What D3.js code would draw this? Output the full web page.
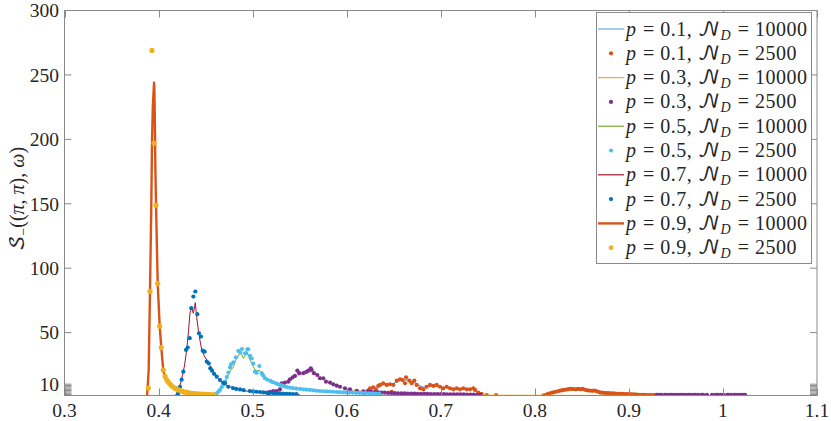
<!DOCTYPE html>
<html><head><meta charset="utf-8">
<script src="https://cdn.jsdelivr.net/npm/d3@7"></script>
<style>
body{margin:0;background:#fff;}
</style></head>
<body><svg id="c" width="831" height="421"></svg>
<script>
const xTicks=[0.3,0.4,0.5,0.6,0.7,0.8,0.9,1.0,1.1];
const xTickLabels=["0.3","0.4","0.5","0.6","0.7","0.8","0.9","1","1.1"];
const yTicks=[10,50,100,150,200,250,300];
const yMinorTicks=[2,3,4,5,6,7,8,9];

// p = 0.1
const p01Line=[[0.612,1.0],[0.618,1.5],[0.622,4],[0.626,6],[0.630,7.2],[0.634,8.3],[0.638,9.5],[0.642,9.6],[0.646,9.8],[0.650,10.5],[0.654,12],[0.658,13],[0.662,13.2],[0.666,13.5],[0.670,12],[0.674,10.5],[0.678,8.5],[0.682,7.5],[0.686,8],[0.690,8.8],[0.694,8.7],[0.698,8.4],[0.702,7.6],[0.706,7.4],[0.710,6.9],[0.714,6.6],[0.718,6.5],[0.722,6.4],[0.726,6.2],[0.730,6.1],[0.734,6.2],[0.738,4.5],[0.742,2.6],[0.746,1.6],[0.750,1.0],[0.805,1.0],[0.810,1.6],[0.816,2.8],[0.824,4.2],[0.832,5.6],[0.840,6.2],[0.848,6.2],[0.856,5.2],[0.864,4.5],[0.872,3.3],[0.880,2.9],[0.890,2.4],[0.905,2.0],[0.920,1.6],[0.935,1.3],[0.94,1.0]];
const p01Dots=[[0.6195,2.5],[0.6222,4.8],[0.6248,6.8],[0.6283,7.6],[0.6312,5.5],[0.6336,8.6],[0.6354,9.4],[0.6389,10.7],[0.6425,9.4],[0.646,9.9],[0.6478,4.1],[0.6496,9.4],[0.6532,12.7],[0.6567,13.8],[0.6595,13.2],[0.662,10.7],[0.6631,15.3],[0.6666,12.7],[0.6691,10.7],[0.6719,12.7],[0.6744,9.4],[0.678,6.8],[0.6815,6],[0.685,8],[0.6886,9.4],[0.6921,8.6],[0.6957,9.4],[0.6992,8],[0.7027,6.8],[0.7063,8],[0.7098,6.8],[0.7134,6],[0.7169,6.8],[0.7205,6],[0.724,6.8],[0.7276,6],[0.7311,6],[0.7346,6.8],[0.7364,5.5],[0.7399,3.4],[0.7435,2.4],[0.7488,1.6],[0.7588,1.6],
[0.809,1.2],[0.811,1.6],[0.8135,2.2],[0.816,2.9],[0.8185,3.4],[0.821,3.9],[0.8235,4.3],[0.826,4.8],[0.8285,5.1],[0.831,5.5],[0.8335,5.8],[0.836,6.1],[0.8385,6.4],[0.841,6.2],[0.8435,6.0],[0.846,6.3],[0.8485,6.1],[0.851,6.4],[0.8535,5.6],[0.856,5.1],[0.8585,5.0],[0.861,4.8],[0.8635,5.0],[0.866,4.5],[0.8685,3.8],[0.871,3.4],[0.8735,3.3],[0.876,3.1],[0.8785,3.0],[0.881,2.9],[0.8835,2.8],[0.886,2.7],[0.8885,2.5],[0.891,2.4],[0.8935,2.4],[0.896,2.3],[0.8985,2.2],[0.901,2.2],[0.9035,2.1],[0.906,2.0],[0.9085,1.9],[0.911,1.8],[0.9135,1.8],[0.916,1.7],[0.9185,1.6],[0.921,1.6],[0.9235,1.5],[0.926,1.5],[0.9285,1.4],[0.931,1.4],[0.9335,1.3]];

// p = 0.3
const p03Line=[[0.512,1.0],[0.516,2],[0.520,3.5],[0.524,4.8],[0.528,6.5],[0.532,9],[0.536,11],[0.540,13],[0.544,15],[0.548,16.5],[0.552,17.8],[0.556,18.8],[0.560,19.5],[0.564,19.2],[0.568,17.5],[0.572,15.5],[0.576,13.5],[0.580,11.8],[0.584,10.3],[0.588,9],[0.592,8],[0.596,7.2],[0.600,6.4],[0.605,5.6],[0.610,5],[0.615,4.6],[0.620,4.2],[0.625,3.8],[0.630,3.4],[0.640,3],[0.650,2.7],[0.660,2.5],[0.680,2.2],[0.700,2.0],[0.720,1.8],[0.740,1.6],[0.760,1.5],[0.800,1.4],[0.850,1.3],[0.900,1.3],[0.950,1.3],[1.000,1.2],[1.025,1.2]];
const p03Dots=[[0.5167,2.9],[0.5185,4.1],[0.522,4.7],[0.5256,4.7],[0.5291,6],[0.5309,10.7],[0.5344,11.2],[0.538,11.9],[0.5397,13.8],[0.5426,15.3],[0.545,16.4],[0.5475,20.5],[0.5496,18.5],[0.5539,18.5],[0.557,19.5],[0.5592,20.5],[0.5618,22.3],[0.5628,21],[0.5652,18.5],[0.5688,17.1],[0.5716,14.6],[0.5751,14.6],[0.578,11.9],[0.5823,11.2],[0.5858,9.9],[0.5894,8.8],[0.5929,8],[0.5982,6.8],[0.6035,6],[0.6107,4.9],[0.6177,4.5],[0.623,4.5],
[0.6265,4.2],[0.630,3.9],[0.6335,3.7],[0.637,3.5],[0.6405,3.4],[0.644,3.2],[0.6475,3.1],[0.651,3.0],[0.6545,2.9],[0.658,2.8],[0.6615,2.8],[0.665,2.7],[0.6685,2.6],[0.672,2.6],[0.6755,2.5],[0.679,2.5],[0.6825,2.4],[0.686,2.4],[0.6895,2.3],[0.693,2.3],[0.6965,2.2],[0.700,2.2],[0.7035,2.2],[0.707,2.1],[0.7105,2.1],[0.714,2.1],[0.7175,2.0],[0.721,2.0],[0.7245,2.0],[0.728,1.9],[0.7315,1.9],[0.735,1.9],[0.7385,1.8],[0.742,1.8],
[0.9296,1.8],[0.9323,1.8],[0.935,1.8],[0.9386,1.8],[0.9413,1.8],[0.944,1.8],[0.9455,1.8],[0.9485,1.8],[0.9515,1.8],[0.9545,1.8],[0.9575,1.8],[0.9605,1.8],[0.9635,1.8],[0.9650,1.8],[0.9675,1.8],[0.9705,1.8],[0.9735,1.8],[0.977,1.8],[0.979,1.8],[0.983,1.8],[0.9884,1.8],[0.992,1.8],[0.9945,1.8],[0.9975,1.8],[1.0005,1.8],[1.0045,1.8],[1.0062,1.8],[1.0095,1.8],[1.0125,1.8],[1.0155,1.8],[1.0185,1.8],[1.0215,1.8],[1.0235,1.8]];

// p = 0.5
const p05Line=[[0.456,1.0],[0.460,2.2],[0.464,4.5],[0.468,8],[0.471,12],[0.474,17],[0.477,21.5],[0.479,22.5],[0.482,28.5],[0.4845,31.5],[0.4866,34.5],[0.4885,33],[0.490,30],[0.492,32],[0.4937,35.2],[0.4955,32],[0.4972,28.8],[0.499,26],[0.5007,23.6],[0.5025,21.5],[0.5043,20],[0.5071,21],[0.509,18.5],[0.511,16.5],[0.514,14],[0.518,12.5],[0.522,11.2],[0.526,10],[0.530,9],[0.535,8],[0.540,7.2],[0.545,6.6],[0.550,6],[0.555,5.6],[0.560,5.2],[0.570,4.6],[0.580,4.1],[0.590,3.6],[0.600,3.3],[0.610,3],[0.620,2.7],[0.630,2.5],[0.640,2.3]];
const p05Dots=[[0.4599,1.9],[0.4618,2.9],[0.4636,4.2],[0.4653,5.5],[0.4672,7.8],[0.469,9.8],[0.4706,11.9],[0.4725,15.5],[0.4742,19],[0.476,23.1],[0.477,25.4],[0.4795,27],[0.4823,30.9],[0.4848,35.8],[0.4868,34.5],[0.4887,37.3],[0.4919,34],[0.493,34],[0.4944,37.1],[0.4954,37.1],[0.4972,32],[0.499,30],[0.5007,26],[0.5025,19.7],[0.5043,18.9],[0.5071,24.1],[0.5097,18.5],[0.511,17],[0.513,14.8],[0.5155,13.5],[0.5189,12.5],[0.521,11.6],[0.524,10.9],[0.5265,10.1],[0.529,9.4],[0.5315,8.8],[0.534,8.2],[0.5365,7.7],[0.5397,7.3],[0.543,6.9],[0.5465,6.6],[0.5504,6.3],[0.554,6.0],[0.5575,5.7],[0.561,5.5],[0.5645,5.2],[0.568,4.9],[0.5715,4.7],[0.575,4.5],[0.5785,4.4],[0.582,4.3],[0.5855,4.1],[0.589,3.9],[0.5925,3.8],[0.596,3.7],[0.5995,3.6],[0.603,3.5],[0.6065,3.4],[0.61,3.3],[0.6135,3.2],[0.617,3.1],[0.6205,3.0],[0.624,2.9],[0.6275,2.8],[0.631,2.7],[0.6345,2.6]];

// p = 0.7
const p07Line=[[0.4175,1.0],[0.4195,3],[0.4215,6],[0.4235,11],[0.4255,17],[0.4275,24],[0.4299,36.6],[0.4317,50],[0.4334,65.3],[0.4352,69.2],[0.437,65],[0.4391,73.3],[0.4405,62],[0.4423,52],[0.444,44],[0.4459,36.6],[0.4485,32],[0.4512,28.8],[0.4538,25.5],[0.4565,22.3],[0.459,18.5],[0.4618,15.8],[0.465,13],[0.4688,10.7],[0.4725,9],[0.476,8],[0.481,6.7],[0.4866,5.5],[0.492,4.8],[0.498,4.2],[0.505,3.6],[0.512,3.2],[0.52,2.8],[0.53,2.4],[0.54,2.1],[0.55,1.9]];
const p07Dots=[[0.4205,2.2],[0.4228,8],[0.4245,13.5],[0.4263,19.7],[0.4292,36.6],[0.431,38.4],[0.4331,45.7],[0.4348,69],[0.437,78],[0.4391,81.9],[0.4412,64.3],[0.443,49.5],[0.4451,46.9],[0.4469,36],[0.449,35.2],[0.4512,27.5],[0.4533,26.2],[0.455,22.3],[0.4568,20.5],[0.459,18],[0.4618,15.8],[0.4653,13.2],[0.4688,11],[0.4706,10.7],[0.4741,8],[0.479,7],[0.4825,6.3],[0.4866,5.9],[0.4905,5.3],[0.497,4.7],[0.5005,4.4],[0.504,4.1],[0.5078,3.9],[0.5115,3.6],[0.515,3.4],[0.5185,3.2],[0.522,3.0],[0.5255,2.9],[0.529,2.8],[0.5325,2.6],[0.536,2.5],[0.5395,2.4],[0.543,2.3],[0.5465,2.2]];

// p = 0.9
const p09Line=[[0.3878,0.5],[0.3895,21],[0.3909,82],[0.3923,150],[0.3930,197],[0.3939,225],[0.3952,244],[0.3956,238],[0.3961,212],[0.3966,178],[0.3973,149],[0.3991,88],[0.4012,55],[0.4029,38.4],[0.4050,21],[0.407,15],[0.409,12],[0.411,10.2],[0.413,9],[0.416,7.5],[0.419,6.2],[0.422,5.2],[0.426,4.3],[0.430,3.6],[0.435,3.0],[0.440,2.6],[0.445,2.4],[0.450,2.2],[0.455,2.1],[0.46,2]];
const p09Dots=[[0.3891,7],[0.3909,82],[0.3930,269],[0.3952,197],[0.3973,149],[0.3991,88],[0.4012,55],[0.4029,38.4],[0.4050,21],[0.407,16],[0.409,13],[0.411,11],[0.413,9.5],[0.415,8],[0.417,7],[0.419,6.3],[0.421,5.6],[0.423,5],[0.425,4.5],[0.427,4],[0.429,3.7],[0.431,3.4],[0.433,3.1],[0.435,2.9],[0.437,2.7],[0.439,2.5],[0.441,2.4],[0.443,2.3],[0.445,2.2],[0.447,2.1],[0.449,2],[0.451,2],[0.453,1.9],[0.455,1.9],[0.457,1.8],[0.459,1.8]];

const legendP=["0.1","0.1","0.3","0.3","0.5","0.5","0.7","0.7","0.9","0.9"];
const legendN=["10000","2500","10000","2500","10000","2500","10000","2500","10000","2500"];

const series=[
 {d:p01Line,type:"line",color:"#5aaee0",w:1.2},
 {d:p01Dots,type:"dots",color:"#D95319"},
 {d:p03Line,type:"line",color:"#EDB120",w:0.8},
 {d:p03Dots,type:"dots",color:"#7E2F8E"},
 {d:p05Line,type:"line",color:"#77AC30",w:1},
 {d:p05Dots,type:"dots",color:"#4DBEEE"},
 {d:p07Line,type:"line",color:"#A2142F",w:1},
 {d:p07Dots,type:"dots",color:"#0072BD"},
 {d:p09Line,type:"line",color:"#D95319",w:2.4},
 {d:p09Dots,type:"dots",color:"#EDB120",r:2.6}
];

const SERIF="'Liberation Serif', 'Times New Roman', Times, 'DejaVu Serif', serif";
const CAL="'DejaVu Math TeX Gyre', 'Latin Modern Math', 'STIX Two Math', 'Liberation Serif', serif";

const svg=d3.select("#c");
svg.append("rect").attr("width",831).attr("height",421).attr("fill","#fff");
const L=64.5,R=817,T=10.5,B=395.5;
const x=d3.scaleLinear().domain([0.3,1.1]).range([L,R]);
const y=d3.scaleLinear().domain([1.2,300]).range([B,T]);

svg.append("clipPath").attr("id","clip").append("rect").attr("x",L).attr("y",T).attr("width",R-L).attr("height",B-T);
const plot=svg.append("g").attr("clip-path","url(#clip)");
const line=d3.line().x(d=>x(d[0])).y(d=>y(d[1]));
series.forEach(s=>{
  if(s.type==="line"){
    plot.append("path").attr("d",line(s.d)).attr("fill","none").attr("stroke",s.color).attr("stroke-width",s.w).attr("stroke-linejoin","round");
  } else {
    plot.append("g").selectAll("circle").data(s.d).join("circle")
      .attr("cx",d=>x(d[0])).attr("cy",d=>y(d[1])).attr("r",s.r||2.1).attr("fill",s.color);
  }
});

// axes box
const ax=svg.append("g").attr("font-family",SERIF).attr("fill","#262626");
const axColor="#8a8a8a";
ax.append("rect").attr("x",L).attr("y",T).attr("width",R-L).attr("height",B-T).attr("fill","none").attr("stroke",axColor).attr("stroke-width",1);
const tl=7;
xTicks.forEach(t=>{
  const px=Math.round(x(t))+0.5;
  ax.append("line").attr("x1",px).attr("x2",px).attr("y1",B).attr("y2",B-tl).attr("stroke",axColor);
  ax.append("line").attr("x1",px).attr("x2",px).attr("y1",T).attr("y2",T+tl).attr("stroke",axColor);
});
yTicks.concat(yMinorTicks).forEach(t=>{
  const py=y(t);
  ax.append("line").attr("x1",L).attr("x2",L+tl).attr("y1",py).attr("y2",py).attr("stroke",axColor);
  ax.append("line").attr("x1",R).attr("x2",R-tl).attr("y1",py).attr("y2",py).attr("stroke",axColor);
});
xTicks.forEach((t,i)=>{
  ax.append("text").attr("x",x(t)).attr("y",416.5).attr("text-anchor","middle").attr("font-size",19.5).attr("font-family",SERIF).text(xTickLabels[i]);
});
yTicks.forEach(t=>{
  ax.append("text").attr("x",59).attr("y",y(t)).attr("dy","0.35em").attr("text-anchor","end").attr("font-size",19.5).attr("font-family",SERIF).text(t);
});

// y label
const yl=svg.append("text").attr("transform","translate(24,199) rotate(-90)").attr("text-anchor","middle").attr("font-size",20).attr("font-family",SERIF).attr("fill","#262626");
yl.append("tspan").attr("font-family",CAL).text("𝒮");
yl.append("tspan").attr("font-size",14).attr("dy",4).text("−");
yl.append("tspan").attr("dy",-4).text("((");
yl.append("tspan").attr("font-style","italic").text("π");
yl.append("tspan").text(", ");
yl.append("tspan").attr("font-style","italic").text("π");
yl.append("tspan").text("), ");
yl.append("tspan").attr("font-style","italic").text("ω");
yl.append("tspan").text(")");

// legend
const lg=svg.append("g");
lg.append("rect").attr("x",596.5).attr("y",12.5).attr("width",215).attr("height",251).attr("fill","#fff").attr("stroke",axColor);
series.forEach((s,i)=>{
  const cy=29+i*24.3;
  if(s.type==="line"){
    lg.append("line").attr("x1",598).attr("x2",624).attr("y1",cy).attr("y2",cy).attr("stroke",s.color).attr("stroke-width",Math.max(s.w,1.2));
  } else {
    lg.append("circle").attr("cx",611).attr("cy",cy).attr("r",s.r?2.4:2.1).attr("fill",s.color);
  }
  const t=lg.append("text").attr("x",626).attr("y",cy+6.5).attr("font-size",20).attr("font-family",SERIF).attr("fill","#262626").attr("letter-spacing",0.5);
  t.append("tspan").attr("font-style","italic").text("p");
  t.append("tspan").attr("dx",1).text(" = "+legendP[i]+", ");
  t.append("tspan").attr("font-family",CAL).text("𝒩");
  t.append("tspan").attr("font-style","italic").attr("font-size",14).attr("dy",4).text("D");
  t.append("tspan").attr("dy",-4).attr("dx",1).text(" = "+legendN[i]);
});
</script></body></html>
